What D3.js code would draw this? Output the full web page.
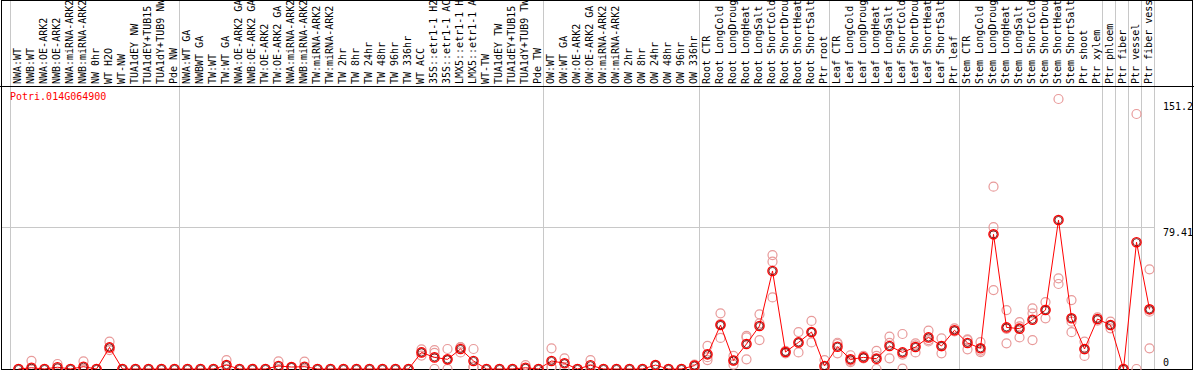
<!DOCTYPE html>
<html>
<head>
<meta charset="utf-8">
<script src="https://cdn.jsdelivr.net/npm/d3@7"></script>
<style>
  body { margin: 0; background: #fff; }
  svg { display: block; font-family: "DejaVu Sans Mono", monospace; font-size: 10px; }
</style>
</head>
<body>
<svg id="chart" width="1194" height="370"></svg>
<script>
const geneId = 'Potri.014G064900';

const samples = [
  'NWA:WT', 'NWB:WT', 'NWA:OE-ARK2', 'NWB:OE-ARK2', 'NWA:miRNA-ARK2', 'NWB:miRNA-ARK2', 'NW 0hr', 'WT H2O', 'WT-NW',
  'TUA1dEY NW', 'TUA1dEY+TUB15 NW', 'TUA1dY+TUB9 NW', 'Pde NW',
  'NWA:WT GA', 'NWBWT GA', 'TW:WT', 'TW:WT GA', 'NWA:OE-ARK2 GA', 'NWB:OE-ARK2 GA', 'TW:OE-ARK2', 'TW:OE-ARK2 GA',
  'NWA:miRNA-ARK2', 'NWB:miRNA-ARK2', 'TW:miRNA-ARK2', 'TW:miRNA-ARK2', 'TW 2hr', 'TW 8hr', 'TW 24hr', 'TW 48hr',
  'TW 96hr', 'TW 336hr', 'WT ACC', '35S::etr1-1 H2O', '35S::etr1-1 ACC', 'LMX5::etr1-1 H2O', 'LMX5::etr1-1 ACC',
  'WT-TW', 'TUA1dEY TW', 'TUA1dEY+TUB15 TW', 'TUA1dY+TUB9 TW', 'Pde TW',
  'OW:WT', 'OW:WT GA', 'OW:OE-ARK2', 'OW:OE-ARK2 GA', 'OW:miRNA-ARK2', 'OW:miRNA-ARK2', 'OW 2hr', 'OW 8hr',
  'OW 24hr', 'OW 48hr', 'OW 96hr', 'OW 336hr',
  'Root CTR', 'Root LongCold', 'Root LongDrought', 'Root LongHeat', 'Root LongSalt', 'Root ShortCold',
  'Root ShortDrought', 'Root ShortHeat', 'Root ShortSalt', 'Ptr root',
  'Leaf CTR', 'Leaf LongCold', 'Leaf LongDrought', 'Leaf LongHeat', 'Leaf LongSalt', 'Leaf ShortCold',
  'Leaf ShortDrought', 'Leaf ShortHeat', 'Leaf ShortSalt', 'Ptr leaf',
  'Stem CTR', 'Stem LongCold', 'Stem LongDrought', 'Stem LongHeat', 'Stem LongSalt', 'Stem ShortCold',
  'Stem ShortDrought', 'Stem ShortHeat', 'Stem ShortSalt', 'Ptr shoot', 'Ptr xylem',
  'Ptr phloem', 'Ptr fiber', 'Ptr vessel', 'Ptr fiber vessel'
];

// index of the first sample of every group (separator lines)
const groupStarts = [0, 13, 41, 53, 63, 73, 84, 85, 86, 87, 88];

// mean expression per sample
const means = [
  0, 0.7, 0, 1.0, 0, 1.3, 0, 12.1, 0, 0, 0, 0, 0,
  0, 0, 0, 2.2, 0, 0, 0, 1.7, 1.1, 1.3, 0, 0, 0, 0, 0, 0, 0, 0,
  9.3, 6.5, 5.4, 11.2, 4.5, 0, 0, 0, 0.7, 0,
  4.5, 3.2, 0, 2.1, 0, 0, 0, 0, 2.2, 0, 0, 1.9,
  8.2, 24.6, 4.8, 14.0, 24.1, 54.9, 9.5, 14.9, 20.7, 1.7,
  12.5, 5.4, 6.5, 5.8, 12.9, 9.3, 12.3, 17.7, 12.9, 21.7,
  14.6, 11.6, 75.4, 23.3, 22.6, 27.6, 33.0, 83.4, 28.4, 11.2, 28.0,
  24.6, 0, 71.0, 33.4
];

// individual replicates per sample
const replicates = [
  [0, 0], [4.6, 0], [0, 0], [2.8, 0], [0, 0], [4.3, 0], [0, 0], [15.3, 10.6], [0, 0], [0, 0], [0, 0], [0, 0], [0, 0],
  [0, 0], [0, 0], [0, 0], [5.0, 0], [0, 0], [0, 0], [0, 0], [4.3, 0], [1.1], [4.1, 0], [0, 0], [0, 0], [0, 0],
  [0, 0], [0, 0], [0, 0], [0, 0], [0, 0],
  [11.0, 7.5, 9.3], [10.6, 9.0, 0], [11.2, 5.0, 0], [12.1, 9.3, 12.2], [11.2, 1.3, 1.0], [0, 0], [0, 0], [0, 0], [2.2, 0], [0, 0],
  [11.6, 1.2, 0.8], [6.0, 0], [0, 0], [5.0, 0], [0, 0], [0, 0], [0, 0], [0, 0], [2.2], [0, 0], [0, 0], [2.5, 0],
  [12.9, 5.0, 6.6], [31.2, 17.4, 25.1], [7.3, 2.4, 4.7], [18.5, 17.7, 5.4], [30.6, 16.2, 25.5], [63.8, 60.1, 40.1],
  [8.8, 10.2, 9.5], [20.7, 9.3, 14.7], [26.9, 14.9, 20.3], [5.0, 0],
  [14.7, 8.8, 14.0], [7.7, 3.9, 4.6], [7.3, 6.0, 6.2], [10.1, 0, 7.3], [18.1, 6.0, 14.6], [19.6, 0.2, 8.1],
  [14.4, 9.3, 13.2], [21.5, 16.2, 15.4], [17.2, 8.8, 12.7], [22.8, 21.0, 21.3],
  [16.2, 11.0, 16.6], [15.0, 10.3, 9.5], [102.1, 79.4, 44.2], [33.0, 14.4, 22.5], [26.2, 17.7, 23.9],
  [34.0, 31.2, 16.2], [37.5, 28.4, 33.1], [151.2, 50.8, 47.6], [38.6, 26.5, 20.6], [15.3, 7.3, 11.0], [28.9, 27.1],
  [26.5, 22.8, 24.5], [0, 0], [142.8, 0], [55.8, 32.1, 11.6]
];

const yTicks = [0, 79.41, 151.2];

(function() {
  'use strict';
  const svg = d3.select('#chart');
  const W = 1194;
  const headY = 86, baseY = 369;
  const left = 11, right = 1155;

  const x = d3.scaleBand()
    .domain(d3.range(samples.length))
    .range([left, right])
    .paddingInner(0).paddingOuter(0);
  const bw = x.bandwidth();
  const cx = i => x(i) + bw / 2 + 1;

  const y = d3.scaleLinear().domain([0, 151.2]).range([baseY, 99]);

  // horizontal grid (only the middle tick gets a line)
  svg.append('g')
    .selectAll('line')
    .data(yTicks.filter(t => t > 0 && t < 151.2))
    .enter().append('line')
    .attr('x1', 1).attr('x2', right)
    .attr('y1', d => Math.round(y(d)) + 0.5).attr('y2', d => Math.round(y(d)) + 0.5)
    .attr('stroke', '#c8c8c8');

  // group separators
  const seps = groupStarts.map(i => i < samples.length ? x(i) : right);
  svg.append('g')
    .selectAll('line')
    .data(seps)
    .enter().append('line')
    .attr('x1', d => Math.round(d) - 0.5).attr('x2', d => Math.round(d) - 0.5)
    .attr('y1', 0).attr('y2', baseY)
    .attr('stroke', '#c8c8c8');

  // frame and header line
  svg.append('rect')
    .attr('x', 1.5).attr('y', 0.5)
    .attr('width', 1191).attr('height', baseY)
    .attr('fill', 'none').attr('stroke', '#000');
  svg.append('line')
    .attr('x1', 0).attr('x2', W)
    .attr('y1', headY + 0.5).attr('y2', headY + 0.5)
    .attr('stroke', '#000');

  // sample labels, rotated (long ones run off the top, as in the original)
  svg.append('g')
    .selectAll('text')
    .data(samples)
    .enter().append('text')
    .attr('transform', (d, i) => `translate(${x(i) + bw / 2},${headY - 2}) rotate(-90)`)
    .attr('dy', '0.35em')
    .attr('fill', '#000')
    .text(d => d);

  // gene id
  svg.append('text')
    .attr('x', 10).attr('y', 100)
    .attr('fill', '#f00')
    .text(geneId);

  // y labels on the right
  svg.append('g')
    .selectAll('text')
    .data(yTicks)
    .enter().append('text')
    .attr('x', 1163)
    .attr('y', d => d === 0 ? y(d) - 3 : y(d) + (d === 151.2 ? 11 : 9))
    .attr('fill', '#000')
    .text(d => d);

  const plot = svg.append('g');

  // replicates
  const repPts = [];
  replicates.forEach((r, i) => r.forEach(v => repPts.push({ i, v })));
  plot.selectAll('circle.rep')
    .data(repPts)
    .enter().append('circle')
    .attr('class', 'rep')
    .attr('cx', d => cx(d.i))
    .attr('cy', d => y(d.v))
    .attr('r', 4.5)
    .attr('fill', 'none')
    .attr('stroke', '#e89a9a')
    .attr('stroke-width', 1.2);

  // mean line
  const line = d3.line()
    .x((d, i) => cx(i))
    .y(d => y(d));
  plot.append('path')
    .datum(means)
    .attr('d', line)
    .attr('fill', 'none')
    .attr('stroke', '#f00')
    .attr('stroke-width', 1);

  // mean markers: red ring with a dark inner edge
  const mk = plot.selectAll('g.mean')
    .data(means)
    .enter().append('g')
    .attr('class', 'mean')
    .attr('transform', (d, i) => `translate(${cx(i)},${y(d)})`);
  mk.append('circle')
    .attr('r', 4.6)
    .attr('fill', 'none')
    .attr('stroke', '#f00')
    .attr('stroke-width', 1.4);
  mk.append('circle')
    .attr('r', 3.6)
    .attr('fill', 'none')
    .attr('stroke', '#500')
    .attr('stroke-width', 0.8);
})();
</script>
</body>
</html>
